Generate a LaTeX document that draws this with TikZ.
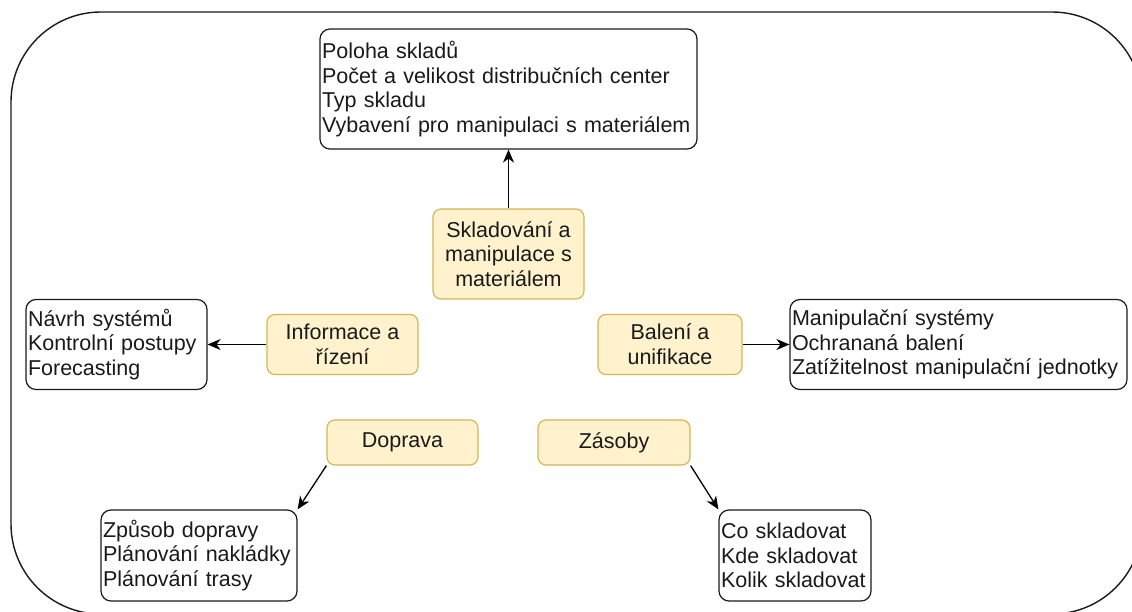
\documentclass[tikz,border=0pt]{standalone}
\usepackage{fontspec}
\setmainfont{Liberation Sans}
\usetikzlibrary{arrows.meta}
\definecolor{noteFill}{HTML}{FFF2CC}
\definecolor{noteLine}{HTML}{D6B656}
\definecolor{ink}{HTML}{1A1A1A}
\begin{document}
\begin{tikzpicture}[x=1pt,y=-1pt,
  every node/.style={font=\fontsize{21.5}{24.7}\selectfont, text=ink},
  listbox/.style={draw=ink, line width=1.2pt, rounded corners=10pt, fill=white,
    align=left, inner xsep=2pt, inner ysep=0pt},
  topic/.style={draw=noteLine, fill=noteFill, line width=1.2pt, rounded corners=8pt,
    align=center, inner sep=0pt},
  link/.style={draw=black, line width=1.3pt, -{Stealth[length=13pt,width=11pt,inset=4pt]}}
]
\useasboundingbox (0,0) rectangle (1132,612);

% surrounding frame (runs past the page edge on the right and bottom)
\begin{scope}
  \clip (0,0) rectangle (1132,612);
  \draw[ink, line width=1.4pt, rounded corners=90pt] (11,12) rectangle (1142,614);
\end{scope}

% central topics
\node[topic, minimum width=151pt, minimum height=90pt] (skl) at (508.5,254)
  {Skladování a\\manipulace s\\materiálem};
\node[topic, minimum width=151pt, minimum height=60pt] (inf) at (342.5,344.5)
  {Informace a\\řízení};
\node[topic, minimum width=144pt, minimum height=60pt] (bal) at (670,344.5)
  {Balení a\\unifikace};
\node[topic, minimum width=151pt, minimum height=45pt] (dop) at (402.5,442.5)
  {Doprava};
\node[topic, minimum width=152pt, minimum height=45pt] (zas) at (614,442.5)
  {Zásoby};

% detail lists
\node[listbox, text width=373pt, minimum height=120pt] (sklL) at (508.5,89)
  {Poloha skladů\\Počet a velikost distribučních center\\Typ skladu\\Vybavení pro manipulaci s materiálem};
\node[listbox, text width=177pt, minimum height=90pt] (infL) at (116.5,344.5)
  {Návrh systémů\\Kontrolní postupy\\Forecasting};
\node[listbox, text width=333pt, minimum height=90pt] (balL) at (958.5,344.5)
  {Manipulační systémy\\Ochrananá balení\\Zatížitelnost manipulační jednotky};
\node[listbox, text width=192pt, minimum height=91pt] (dopL) at (199,555.5)
  {Způsob dopravy\\Plánování nakládky\\Plánování trasy};
\node[listbox, text width=148pt, minimum height=91pt] (zasL) at (795,555.5)
  {Co skladovat\\Kde skladovat\\Kolik skladovat};

% connectors
\draw[link] (skl.north) -- (sklL.south);
\draw[link] (inf.west) -- (infL.east);
\draw[link] (bal.east) -- (balL.west);
\draw[link] (dop.south west) -- (dopL.north east);
\draw[link] (zas.south east) -- (zasL.north west);
\end{tikzpicture}
\end{document}
